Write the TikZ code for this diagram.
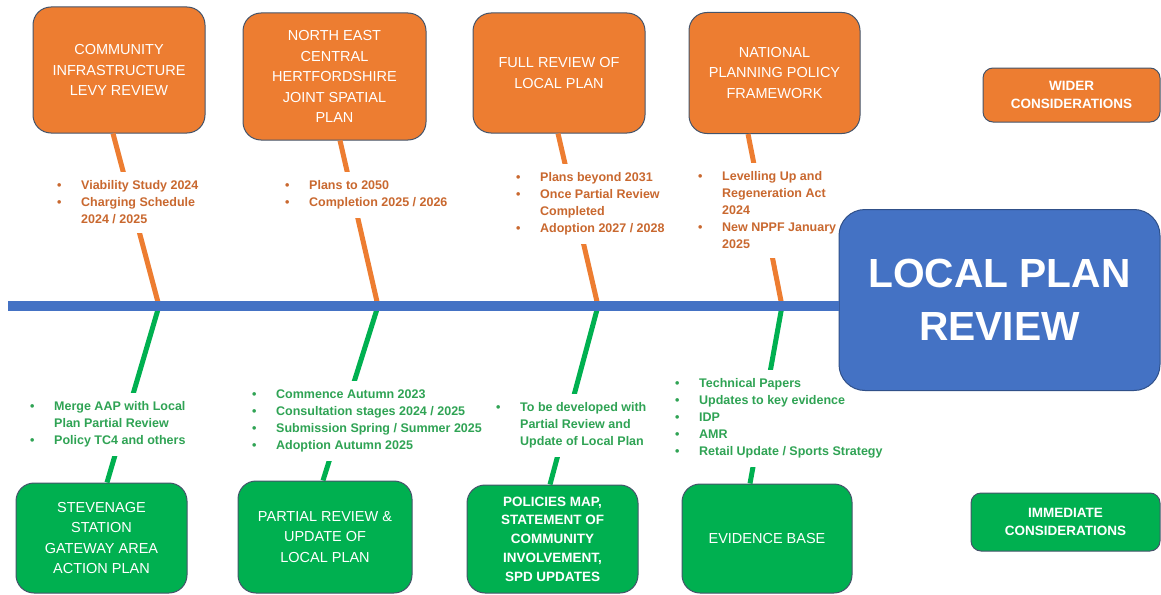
\documentclass[tikz,border=0pt]{standalone}
\usepackage{fontspec}
\setmainfont{Liberation Sans}
\definecolor{wideorange}{HTML}{ED7D31}
\definecolor{nowgreen}{HTML}{00B050}
\definecolor{spineblue}{HTML}{4472C4}
\definecolor{edgeslate}{HTML}{44546A}
\definecolor{noteorange}{HTML}{C9682F}
\definecolor{notegreen}{HTML}{2FA354}
\newcommand\bu{\makebox[24pt][l]{\textbullet}}
\newcommand\cn{\hspace*{24pt}}
\tikzset{
  topbox/.style={rectangle, rounded corners=18pt, fill=wideorange, draw=edgeslate, line width=1pt,
    text=white, align=center, inner sep=0pt, font=\fontsize{14.5}{20.5}\selectfont},
  botbox/.style={topbox, fill=nowgreen},
  keybox/.style={topbox, rounded corners=10pt, font=\bfseries\fontsize{13.5}{17.5}\selectfont},
  mainbox/.style={topbox, rounded corners=26pt, fill=spineblue, draw=spineblue!70!black,
    font=\bfseries\fontsize{40.7}{53}\selectfont},
  bonetop/.style={draw=wideorange, line width=5pt},
  bonebot/.style={draw=nowgreen, line width=5pt},
  spine/.style={draw=spineblue, line width=9.5pt},
  notetop/.style={anchor=north west, fill=white, inner sep=9pt, align=left, text=noteorange,
    font=\fontsize{12.5}{17}\selectfont\bfseries},
  notebot/.style={notetop, text=notegreen}
}
\begin{document}
\begin{tikzpicture}[x=1pt,y=-1pt]
\useasboundingbox (0,0) rectangle (1161,594);
% wider considerations
\node[topbox, minimum width=172pt, minimum height=126pt] (cil) at (119,70) {COMMUNITY\\INFRASTRUCTURE\\LEVY REVIEW};
\node[topbox, minimum width=183pt, minimum height=127pt] (nechjsp) at (334.5,76.5) {NORTH EAST\\CENTRAL\\HERTFORDSHIRE\\JOINT SPATIAL\\PLAN};
\node[topbox, minimum width=172pt, minimum height=120pt] (fullrev) at (559,73) {FULL REVIEW OF\\LOCAL PLAN};
\node[topbox, minimum width=171pt, minimum height=121pt] (nppf) at (774.5,73) {NATIONAL\\PLANNING POLICY\\FRAMEWORK};
% immediate considerations
\node[botbox, minimum width=171pt, minimum height=110pt] (sgap) at (101.5,538) {STEVENAGE\\STATION\\GATEWAY AREA\\ACTION PLAN};
\node[botbox, minimum width=174pt, minimum height=112pt] (partrev) at (325,537) {PARTIAL REVIEW \&\\UPDATE OF\\LOCAL PLAN};
\node[botbox, minimum width=171pt, minimum height=108pt, font=\bfseries\fontsize{13.5}{18.75}\selectfont] (polmap) at (552.5,539) {POLICIES MAP,\\STATEMENT OF\\COMMUNITY\\INVOLVEMENT,\\SPD UPDATES};
\node[botbox, minimum width=170pt, minimum height=109pt] (evid) at (767,538.5) {EVIDENCE BASE};
% points on the spine
\coordinate (sp0) at (8,306);
\foreach\n/\x in{1/159,2/378,3/598,4/782} \coordinate (s\n) at (\x,306);
% bones
\draw[bonetop] ([xshift=-6pt]cil.south) -- (s1);
\draw[bonetop] ([xshift=5.5pt]nechjsp.south) -- (s2);
\draw[bonetop] ([xshift=-1pt]fullrev.south) -- (s3);
\draw[bonetop] ([xshift=-26.5pt]nppf.south) -- (s4);
\draw[bonebot] (s1) -- ([xshift=5.5pt]sgap.north);
\draw[bonebot] (s2) -- ([xshift=-2pt]partrev.north);
\draw[bonebot] (s3) -- ([xshift=-2.5pt]polmap.north);
\draw[bonebot] (s4) -- ([xshift=-17pt]evid.north);
% notes on the bones
\node[notetop] (ncil) at (48,171.5) {\bu Viability Study 2024\\\bu Charging Schedule\\\cn 2024 / 2025};
\node[notetop] (nnech) at (276,171.5) {\bu Plans to 2050\\\bu Completion 2025 / 2026};
\node[notetop] (nfull) at (507,163.5) {\bu Plans beyond 2031\\\bu Once Partial Review\\\cn Completed\\\bu Adoption 2027 / 2028};
\node[notetop] (nnppf) at (689,162.5) {\bu Levelling Up and\\\cn Regeneration Act\\\cn 2024\\\bu New NPPF January\\\cn 2025};
\node[notebot] (nsgap) at (21,392.5) {\bu Merge AAP with Local\\\cn Plan Partial Review\\\bu Policy TC4 and others};
\node[notebot] (npart) at (243,380.5) {\bu Commence Autumn 2023\\\bu Consultation stages 2024 / 2025\\\bu Submission Spring / Summer 2025\\\bu Adoption Autumn 2025};
\node[notebot] (npol) at (487,393.5) {\bu To be developed with\\\cn Partial Review and\\\cn Update of Local Plan};
\node[notebot] (nevid) at (666,369.5) {\bu Technical Papers\\\bu Updates to key evidence\\\bu IDP\\\bu AMR\\\bu Retail Update / Sports Strategy};
% head
\node[mainbox, minimum width=321pt, minimum height=181pt] (lpr) at (999.5,300) {LOCAL PLAN\\REVIEW};
\draw[spine] (sp0) -- (sp0 -| lpr.west);
\node[keybox, minimum width=177pt, minimum height=54pt] (wider) at (1071.5,95) {WIDER\\CONSIDERATIONS};
\node[keybox, fill=nowgreen, minimum width=189pt, minimum height=58pt] (immed) at (1065.5,522) {IMMEDIATE\\CONSIDERATIONS};
\end{tikzpicture}
\end{document}
